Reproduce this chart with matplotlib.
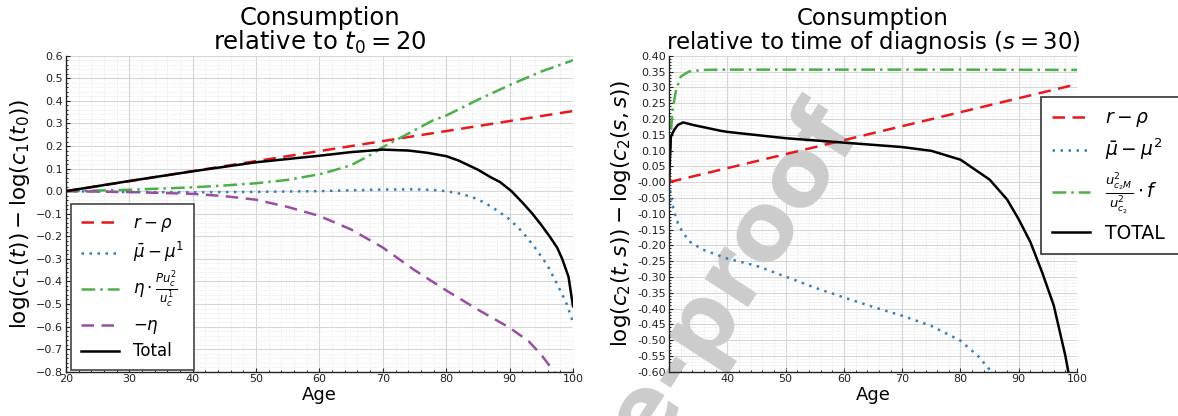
#!/usr/bin/env python3

import matplotlib
matplotlib.use("Agg")
import matplotlib.pyplot as plt
from matplotlib.ticker import MultipleLocator, AutoMinorLocator

# ---- left panel: consumption relative to t0 = 20 ----
red_l_age = [20, 100]
red_l = [0.0, 0.355]

blue_l_age = [20, 30, 40, 50, 60, 65, 70, 75, 78, 80, 82, 84, 86, 88, 90,
              92, 94, 96, 98, 99, 100]
blue_l = [0.0, -0.004, -0.005, -0.003, 0.0, 0.004, 0.007, 0.008, 0.005, 0.0,
          -0.01, -0.025, -0.05, -0.085, -0.125, -0.18, -0.25, -0.33, -0.44,
          -0.5, -0.58]

green_l_age = [20, 30, 40, 45, 50, 55, 60, 62, 65, 68, 70, 72, 74, 76, 78,
               80, 85, 90, 95, 100]
green_l = [0.0, 0.006, 0.017, 0.025, 0.035, 0.05, 0.075, 0.09, 0.115, 0.16,
           0.195, 0.225, 0.255, 0.285, 0.315, 0.335, 0.405, 0.47, 0.53, 0.58]

purple_l_age = [20, 30, 40, 45, 50, 55, 60, 65, 70, 75, 80, 85, 90, 93, 95,
                97, 100]
purple_l = [0.0, -0.004, -0.012, -0.022, -0.038, -0.07, -0.11, -0.17, -0.25,
            -0.35, -0.44, -0.525, -0.605, -0.665, -0.725, -0.8, -0.92]

black_l_age = [20, 30, 40, 50, 60, 65, 70, 74, 77, 80, 82, 85, 87, 88.5,
               90.3, 92, 93.6, 95, 96.3, 97.5, 98.3, 99.3, 100]
black_l = [0.0, 0.045, 0.088, 0.128, 0.157, 0.173, 0.184, 0.18, 0.17, 0.155,
           0.135, 0.095, 0.062, 0.04, 0.0, -0.05, -0.1, -0.15, -0.2, -0.25,
           -0.3, -0.38, -0.51]

labels_l = [r'$r - \rho$', r'$\bar{\mu} - \mu^1$',
            r'$\eta \cdot \frac{Pu_c^2}{u_c^1}$', r'$-\eta$', 'Total']

# ---- right panel: consumption relative to diagnosis s = 30 ----
red_r_age = [30, 100]
red_r = [0.0, 0.31]

blue_r_age = [30, 30.3, 30.9, 31.7, 33.4, 35.7, 37, 40, 45, 50, 55, 60, 65,
              70, 75, 80, 83, 85.3, 88, 92, 96, 100]
blue_r = [0.0, -0.045, -0.097, -0.14, -0.187, -0.213, -0.222, -0.242, -0.265,
          -0.299, -0.334, -0.365, -0.395, -0.423, -0.455, -0.502, -0.55, -0.6,
          -0.68, -0.82, -1.0, -1.25]

green_r_age = [30, 30.2, 30.4, 30.6, 31.2, 32.0, 33.4, 35.7, 40, 60, 80, 100]
green_r = [0.0, 0.1, 0.18, 0.229, 0.292, 0.334, 0.35, 0.355, 0.356, 0.356,
           0.356, 0.355]

black_r_age = [30, 30.15, 30.3, 30.9, 31.5, 32.4, 34.1, 38.7, 40, 50, 60, 70,
               75, 80, 85, 88, 90, 92, 94, 96, 98, 98.5, 99, 100]
black_r = [0.0, 0.08, 0.144, 0.166, 0.181, 0.189, 0.181, 0.163, 0.159, 0.139,
           0.125, 0.111, 0.099, 0.071, 0.008, -0.055, -0.118, -0.19, -0.285,
           -0.39, -0.55, -0.6, -0.66, -0.8]

labels_r = [r'$r - \rho$', r'$\bar{\mu} - \mu^2$',
            r'$\frac{u^2_{c_2M}}{u^2_{c_2}} \cdot f$', 'TOTAL']

RED = '#e41a1c'
BLUE = '#377eb8'
GREEN = '#4daf4a'
PURPLE = '#984ea3'

DASH = (0, (5, 3))
DOT = (0, (1, 2.2))
DASHDOT = (0, (5.5, 2, 1, 2))


def style_axes(ax, xmaj, ymaj):
    ax.set_facecolor('none')
    for side in ('top', 'right'):
        ax.spines[side].set_visible(False)
    for side in ('left', 'bottom'):
        ax.spines[side].set_color('#222222')
        ax.spines[side].set_linewidth(1.0)
    ax.xaxis.set_major_locator(MultipleLocator(xmaj))
    ax.yaxis.set_major_locator(MultipleLocator(ymaj))
    ax.xaxis.set_minor_locator(AutoMinorLocator(5))
    ax.yaxis.set_minor_locator(AutoMinorLocator(5))
    ax.grid(True, which='major', color='#d6d6d6', lw=0.8, zorder=0.5)
    ax.grid(True, which='minor', color='#e4e4e4', lw=0.5, ls=(0, (2, 2)),
            zorder=0.5)
    ax.set_axisbelow(True)
    ax.tick_params(which='major', direction='in', length=3, labelsize=8,
                   pad=2, colors='#222222')
    ax.tick_params(which='minor', direction='in', length=1.5)


def main():
    fig = plt.figure(figsize=(11.78, 4.16), dpi=100)

    ax1 = fig.add_axes([0.056, 0.1065, 0.4304, 0.7595])
    ax2 = fig.add_axes([0.568, 0.1065, 0.3463, 0.7595])

    # left
    ax1.plot(red_l_age, red_l, color=RED, lw=1.8, ls=DASH, label=labels_l[0])
    ax1.plot(blue_l_age, blue_l, color=BLUE, lw=1.8, ls=DOT, label=labels_l[1])
    ax1.plot(green_l_age, green_l, color=GREEN, lw=1.8, ls=DASHDOT, label=labels_l[2])
    ax1.plot(purple_l_age, purple_l, color=PURPLE, lw=1.8, ls=DASH, label=labels_l[3])
    ax1.plot(black_l_age, black_l, color='black', lw=1.8, label=labels_l[4])
    style_axes(ax1, 10, 0.1)
    ax1.set_xlim(20, 100)
    ax1.set_ylim(-0.8, 0.6)
    ax1.set_xlabel('Age', fontsize=13, labelpad=1)
    ax1.set_ylabel(r'$\log(c_1(t)) - \log(c_1(t_0))$', fontsize=15.5, labelpad=3)
    ax1.set_title('Consumption\nrelative to $t_0 = 20$', fontsize=17.5, pad=3,
                  linespacing=0.95)
    leg1 = ax1.legend(loc='upper left', bbox_to_anchor=(0.01, 0.53),
                      borderaxespad=0, fontsize=12, fancybox=False,
                      framealpha=1, edgecolor='#444444', handlelength=2.3,
                      borderpad=0.6, labelspacing=0.36)
    leg1.get_frame().set_linewidth(1.2)

    # right
    ax2.plot(red_r_age, red_r, color=RED, lw=1.8, ls=DASH, label=labels_r[0])
    ax2.plot(blue_r_age, blue_r, color=BLUE, lw=1.8, ls=DOT, label=labels_r[1])
    ax2.plot(green_r_age, green_r, color=GREEN, lw=1.8, ls=DASHDOT, label=labels_r[2])
    ax2.plot(black_r_age, black_r, color='black', lw=1.8, label=labels_r[3])
    style_axes(ax2, 10, 0.05)
    ax2.set_xlim(30, 100)
    ax2.set_ylim(-0.6, 0.4)
    ax2.yaxis.set_major_formatter(plt.FormatStrFormatter('%.2f'))
    ax2.set_xlabel('Age', fontsize=13, labelpad=1)
    ax2.set_ylabel(r'$\log(c_2(t,s)) - \log(c_2(s,s))$', fontsize=15.5, labelpad=3)
    ax2.set_title('Consumption\nrelative to time of diagnosis ($s = 30$)',
                  fontsize=16.5, pad=3, linespacing=0.95)
    leg2 = ax2.legend(loc='upper left', bbox_to_anchor=(0.912, 0.87, 0.36, 0),
                      mode='expand', borderaxespad=0, fontsize=13.5,
                      fancybox=False, framealpha=1, edgecolor='#333333',
                      handlelength=2.0, borderpad=0.6, labelspacing=0.42)
    leg2.get_frame().set_linewidth(1.2)

    # publisher watermark: above the grid, below the curves
    ax2.text(0.735, 0.675, 'Journal Pre-proof', transform=fig.transFigure,
             fontsize=68, fontweight='bold', color='#cccccc', rotation=57,
             ha='right', va='baseline', rotation_mode='anchor', zorder=1,
             clip_on=False)

    fig.savefig('out.png', dpi=100)


if __name__ == "__main__":
    main()
